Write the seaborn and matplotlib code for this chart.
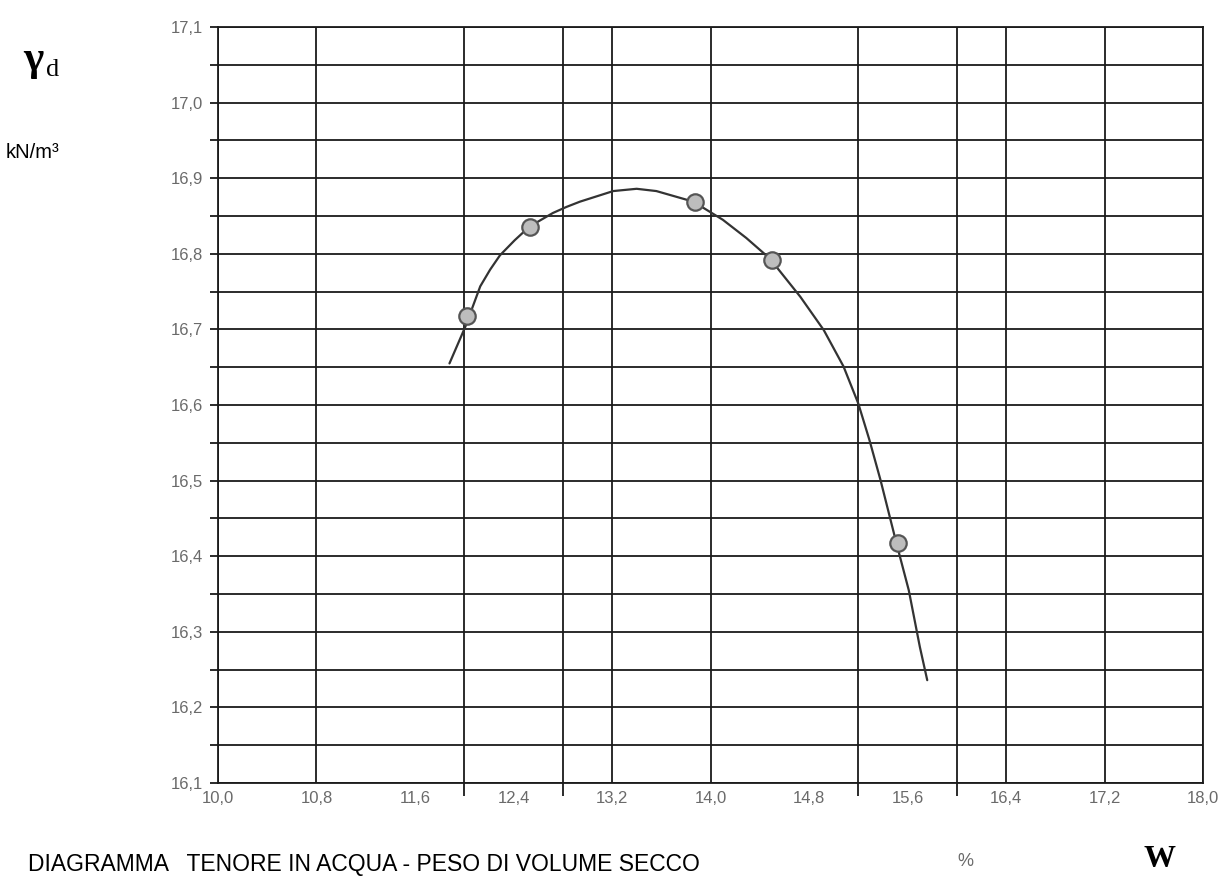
import numpy as np
import pandas as pd
import matplotlib
matplotlib.use("Agg")
import matplotlib.pyplot as plt
import seaborn as sns

# measured points (water content %, dry unit weight kN/m3)
w_points = [12.02, 12.53, 13.87, 14.50, 15.52]
gd_points = [16.718, 16.836, 16.869, 16.792, 16.417]

# compaction curve
w_curve = [11.88, 12.01, 12.13, 12.21, 12.29, 12.41, 12.53, 12.72, 12.83, 12.94, 13.21, 13.40,
           13.56, 13.86, 14.10, 14.29, 14.48, 14.73, 14.92, 15.08, 15.20, 15.29, 15.38, 15.51,
           15.61, 15.70, 15.76]
gd_curve = [16.655, 16.704, 16.757, 16.779, 16.798, 16.818, 16.836, 16.854, 16.862, 16.869,
            16.883, 16.886, 16.883, 16.869, 16.845, 16.821, 16.794, 16.743, 16.699, 16.651,
            16.602, 16.554, 16.501, 16.417, 16.355, 16.280, 16.236]

x_labels = ["10,0", "10,8", "11,6", "12,4", "13,2", "14,0", "14,8", "15,6", "16,4", "17,2", "18,0"]
x_label_pos = [10.0, 10.8, 11.6, 12.4, 13.2, 14.0, 14.8, 15.6, 16.4, 17.2, 18.0]
x_grid = [10.0, 10.8, 12.0, 12.8, 13.2, 14.0, 15.2, 16.0, 16.4, 17.2, 18.0]
y_labels = ["16,1", "16,2", "16,3", "16,4", "16,5", "16,6", "16,7", "16,8", "16,9", "17,0", "17,1"]
y_label_pos = [16.1, 16.2, 16.3, 16.4, 16.5, 16.6, 16.7, 16.8, 16.9, 17.0, 17.1]
y_minor = [16.15, 16.25, 16.35, 16.45, 16.55, 16.65, 16.75, 16.85, 16.95, 17.05]

sns.set_theme(style="white")
plt.rcParams["font.family"] = ["Liberation Sans", "DejaVu Sans"]

fig = plt.figure(figsize=(12.28, 8.77), dpi=100)
ax = fig.add_axes([0.1775, 0.1072, 0.9797 - 0.1775, 0.9692 - 0.1072])

curve = pd.DataFrame({"w": w_curve, "gd": gd_curve})
pts = pd.DataFrame({"w": w_points, "gd": gd_points})

sns.lineplot(data=curve, x="w", y="gd", sort=False, color="#333333", lw=1.6, ax=ax, zorder=3)
sns.scatterplot(data=pts, x="w", y="gd", s=140, color="#bdbdbd", edgecolor="#555555",
                linewidth=1.6, ax=ax, zorder=4)

ax.set_xlim(10.0, 18.0)
ax.set_ylim(16.1, 17.1)

# x: labels every 0.8, grid lines at irregular positions
ax.set_xticks(x_label_pos)
ax.set_xticklabels(x_labels)
ax.set_xticks(x_grid, minor=True)
ax.tick_params(axis="x", which="major", length=0, pad=6, labelsize=12, labelcolor="#6a6a6a")
ax.tick_params(axis="x", which="minor", length=9, width=1.3, color="#1a1a1a", direction="out", bottom=True)

ax.set_yticks(y_label_pos)
ax.set_yticklabels(y_labels)
ax.set_yticks(y_minor, minor=True)
ax.tick_params(axis="y", which="major", length=6, width=1.3, color="#1a1a1a", pad=5,
               labelsize=12, labelcolor="#6a6a6a", left=True)
ax.tick_params(axis="y", which="minor", length=6, width=1.3, color="#1a1a1a", left=True)

for xv in x_grid:
    ax.axvline(xv, color="#1a1a1a", lw=1.3, zorder=1)
ax.yaxis.grid(True, which="both", color="#1a1a1a", lw=1.3, zorder=1)
ax.set_axisbelow(True)

for sp in ax.spines.values():
    sp.set_color("#1a1a1a")
    sp.set_linewidth(1.3)

ax.set_xlabel("")
ax.set_ylabel("")

fig.text(23 / 1228, 1 - 70 / 877, "γ", fontsize=31, fontweight="bold",
         family=["Liberation Serif", "DejaVu Serif"], color="black")
fig.text(46 / 1228, 1 - 76 / 877, "d", fontsize=19,
         family=["Liberation Serif", "DejaVu Serif"], color="black")
fig.text(6 / 1228, 1 - 158 / 877, "kN/m³", fontsize=14.5, color="black")
fig.text(28 / 1228, 1 - 871 / 877, "DIAGRAMMA   TENORE IN ACQUA - PESO DI VOLUME SECCO",
         fontsize=16.5, color="black")
fig.text(957 / 1228, 1 - 866 / 877, "%", fontsize=13, color="#6a6a6a")
fig.text(1143 / 1228, 1 - 867 / 877, "W", fontsize=23, fontweight="bold",
         family=["Liberation Serif", "DejaVu Serif"], color="black")

plt.savefig("out.png", dpi=100)
plt.close()
print("Saved: out.png")
